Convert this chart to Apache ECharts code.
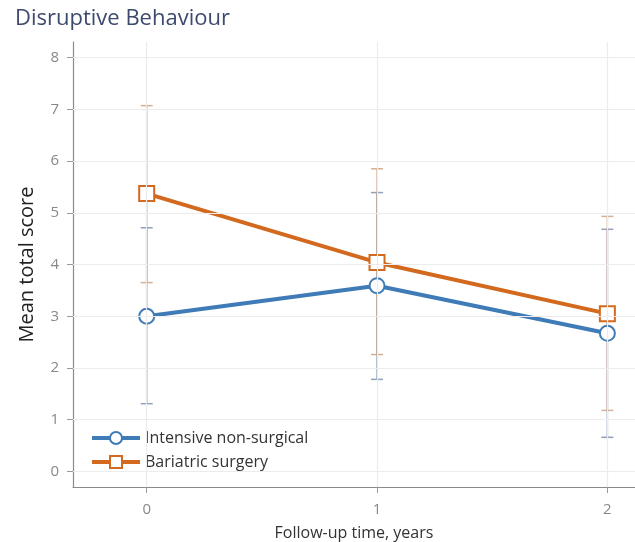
<!DOCTYPE html>
<html>
<head>
<meta charset="utf-8">
<script src="https://cdn.jsdelivr.net/npm/echarts@6/dist/echarts.min.js"></script>
<style>
html,body{margin:0;padding:0;background:#fff;}
#chart{width:635px;height:542px;}
</style>
</head>
<body>
<div id="chart"></div>
<script>
var years = [0, 1, 2];
var xTicks = [0, 1, 2];
var yTicks = [0, 1, 2, 3, 4, 5, 6, 7, 8];
var intensiveMean = [3.0, 3.59, 2.67];
var intensiveLow = [1.31, 1.78, 0.66];
var intensiveHigh = [4.71, 5.39, 4.68];
var bariatricMean = [5.37, 4.04, 3.05];
var bariatricLow = [3.65, 2.26, 1.18];
var bariatricHigh = [7.07, 5.85, 4.93];

var blue = '#3f7bb6';
var orange = '#d2691e';

function pairs(ys){
    return years.map(function(x, i){ return [x, ys[i]]; });
}
function bars(lo, hi){
    return years.map(function(x, i){ return [x, lo[i], hi[i]]; });
}
// error bars: vertical line plus caps
function errorBar(color){
    return function(params, api){
        var top = api.coord([api.value(0), api.value(2)]);
        var bot = api.coord([api.value(0), api.value(1)]);
        var w = 6;
        var st = {stroke: color, lineWidth: 1.5};
        return {
            type: 'group',
            children: [
                {type: 'line', shape: {x1: top[0], y1: top[1], x2: bot[0], y2: bot[1]}, style: st},
                {type: 'line', shape: {x1: top[0] - w, y1: top[1], x2: top[0] + w, y2: top[1]}, style: st},
                {type: 'line', shape: {x1: bot[0] - w, y1: bot[1], x2: bot[0] + w, y2: bot[1]}, style: st}
            ]
        };
    };
}

var myChart = echarts.init(document.getElementById('chart'));
var option = {
    backgroundColor: '#fff',
    animation: false,
    title: {
        text: 'Disruptive Behaviour',
        left: 10,
        top: 3,
        textStyle: {fontFamily: 'Open Sans', fontSize: 22, fontWeight: 'normal', color: '#3c4a6e'}
    },
    legend: {
        orient: 'vertical',
        left: 86,
        top: 427,
        padding: [3, 6, 3, 4],
        backgroundColor: '#fff',
        itemWidth: 48,
        itemHeight: 15,
        itemGap: 8,
        lineStyle: {width: 4},
        data: ['Intensive non-surgical', 'Bariatric surgery'],
        textStyle: {fontFamily: 'Open Sans', fontSize: 16, color: '#333'}
    },
    grid: {left: 73, right: 0, top: 42, bottom: 55, outerBoundsMode: 'none'},
    xAxis: {
        type: 'value',
        min: -0.32,
        max: 2.12,
        name: 'Follow-up time, years',
        nameLocation: 'middle',
        nameGap: 38,
        nameTextStyle: {fontFamily: 'Open Sans', fontSize: 16, color: '#333'},
        axisLine: {show: true, onZero: false, lineStyle: {color: '#8a8a8a', width: 1.2}},
        axisTick: {show: true, length: 6, customValues: xTicks, lineStyle: {color: '#999'}},
        axisLabel: {customValues: xTicks, margin: 15, fontFamily: 'Open Sans', fontSize: 15, color: '#888'},
        splitLine: {show: false}
    },
    yAxis: {
        type: 'value',
        min: -0.3,
        max: 8.3,
        name: 'Mean total score',
        nameLocation: 'middle',
        nameGap: 36,
        nameTextStyle: {fontFamily: 'Open Sans', fontSize: 20, color: '#222'},
        axisLine: {show: true, onZero: false, lineStyle: {color: '#8a8a8a', width: 1.2}},
        axisTick: {show: true, length: 6, customValues: yTicks, lineStyle: {color: '#999'}},
        axisLabel: {customValues: yTicks, margin: 14, fontFamily: 'Open Sans', fontSize: 15, color: '#888'},
        splitLine: {show: false}
    },
    series: [
        {
            name: 'grid',
            type: 'line',
            data: [],
            silent: true,
            markLine: {
                symbol: 'none',
                silent: true,
                label: {show: false},
                lineStyle: {color: '#ececec', type: 'solid', width: 1.2},
                data: yTicks.map(function(v){ return {yAxis: v}; })
                    .concat(xTicks.map(function(v){ return {xAxis: v}; }))
            }
        },
        {
            name: 'intensiveErr',
            type: 'custom',
            renderItem: errorBar('rgba(125,145,175,0.85)'),
            data: bars(intensiveLow, intensiveHigh),
            z: 1
        },
        {
            name: 'bariatricErr',
            type: 'custom',
            renderItem: errorBar('rgba(200,150,115,0.75)'),
            data: bars(bariatricLow, bariatricHigh),
            z: 1
        },
        {
            name: 'Intensive non-surgical',
            type: 'line',
            data: pairs(intensiveMean),
            symbol: 'circle',
            symbolSize: 15,
            color: blue,
            lineStyle: {color: blue, width: 4},
            itemStyle: {color: '#fff', borderColor: blue, borderWidth: 2},
            z: 3
        },
        {
            name: 'Bariatric surgery',
            type: 'line',
            data: pairs(bariatricMean),
            symbol: 'rect',
            symbolSize: 15,
            color: orange,
            lineStyle: {color: orange, width: 4},
            itemStyle: {color: '#fff', borderColor: orange, borderWidth: 2},
            z: 3
        }
    ]
};
myChart.setOption(option);
</script>
</body>
</html>
